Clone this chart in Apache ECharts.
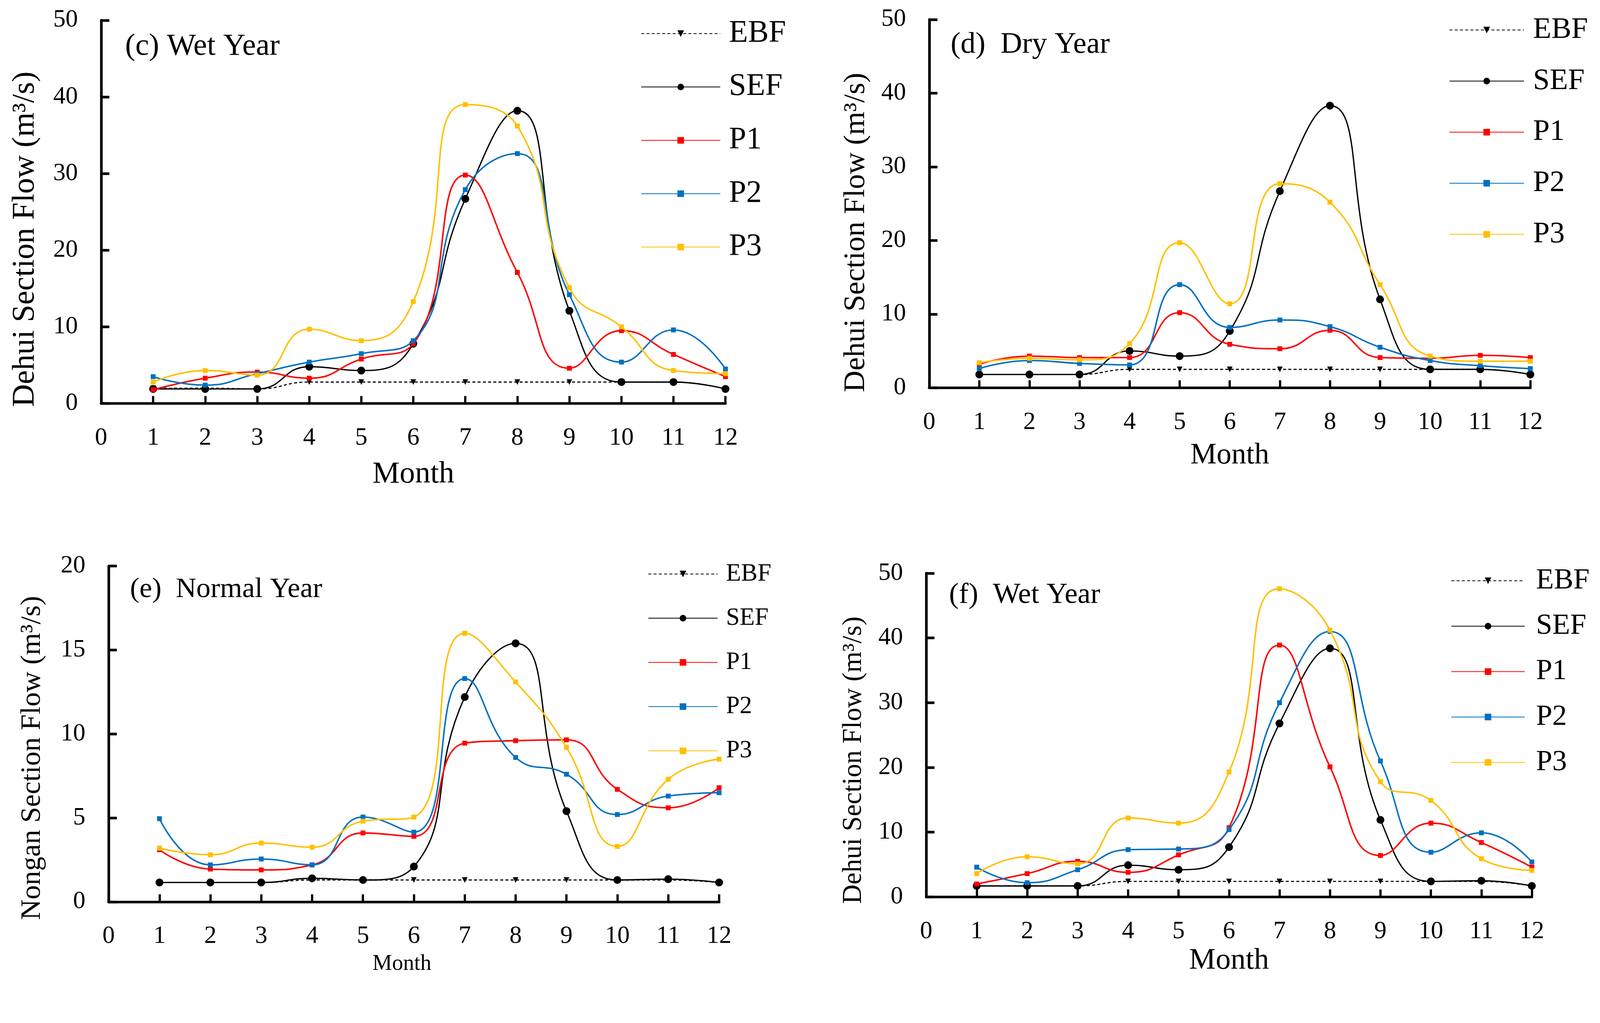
<!DOCTYPE html>
<html><head><meta charset="utf-8">
<script src="https://cdn.jsdelivr.net/npm/echarts@6/dist/echarts.min.js"></script>
<style>html,body{margin:0;padding:0;background:#fff;overflow:hidden}#c{width:4272px;height:2618px}</style>
</head><body><div id="c"></div>
<script>
// ---------- data ----------
const months = [1,2,3,4,5,6,7,8,9,10,11,12];
const seriesNames = ['EBF','SEF','P1','P2','P3'];
const panelTitles = ['(c) Wet Year','(d)  Dry Year','(e)  Normal Year','(f)  Wet Year'];
const yNames = ['Dehui Section Flow (m³/s)','Dehui Section Flow (m³/s)','Nongan Section Flow (m³/s)','Dehui Section Flow (m³/s)'];
const xName = 'Month';
const yMax = [50,50,20,50];
const yStep = [10,10,5,10];

// (c) Wet Year, Dehui
const cEBF = [2.0,2.0,1.9,2.8,2.8,2.8,2.8,2.8,2.8,2.8,2.8,1.9];
const cSEF = [1.9,1.9,1.9,4.8,4.3,7.8,26.7,38.2,12.1,2.8,2.8,1.9];
const cP1  = [1.8,3.3,4.1,3.3,5.8,7.8,29.8,17.1,4.6,9.5,6.4,3.5];
const cP2  = [3.5,2.4,3.9,5.4,6.5,8.2,27.9,32.6,14.2,5.4,9.6,4.5];
const cP3  = [2.8,4.3,3.7,9.7,8.2,13.3,39.0,36.2,15.1,10.0,4.3,3.9];
// (d) Dry Year, Dehui
const dEBF = [1.8,1.8,1.8,2.5,2.5,2.5,2.5,2.5,2.5,2.5,2.5,1.8];
const dSEF = [1.8,1.8,1.8,5.0,4.3,7.7,26.7,38.3,12.0,2.5,2.5,1.8];
const dP1  = [3.2,4.3,4.1,4.1,10.2,5.9,5.3,7.8,4.1,4.0,4.4,4.1];
const dP2  = [2.6,3.7,3.3,3.1,14.0,8.2,9.2,8.3,5.5,3.7,3.0,2.6];
const dP3  = [3.4,4.0,3.8,6.0,19.7,11.4,27.7,25.2,14.0,4.3,3.6,3.6];
// (e) Normal Year, Nongan
const eEBF = [1.15,1.15,1.15,1.3,1.3,1.3,1.3,1.3,1.3,1.3,1.3,1.15];
const eSEF = [1.15,1.15,1.15,1.4,1.3,2.1,12.2,15.4,5.4,1.3,1.35,1.15];
const eP1  = [3.1,1.95,1.9,2.2,4.1,3.9,9.45,9.6,9.65,6.7,5.6,6.8];
const eP2  = [4.95,2.2,2.55,2.2,5.05,4.15,13.3,8.6,7.6,5.2,6.3,6.5];
const eP3  = [3.2,2.8,3.5,3.25,4.8,5.05,16.0,13.1,9.2,3.3,7.3,8.5];
// (f) Wet Year, Dehui
const fEBF = [1.7,1.7,1.7,2.4,2.4,2.4,2.4,2.4,2.4,2.4,2.4,1.7];
const fSEF = [1.7,1.7,1.7,4.9,4.2,7.7,26.8,38.4,11.9,2.4,2.5,1.7];
const fP1  = [2.0,3.6,5.5,3.8,6.5,10.7,38.9,20.1,6.4,11.4,8.4,4.6];
const fP2  = [4.6,2.2,4.2,7.3,7.4,10.4,30.0,41.0,21.0,6.9,9.9,5.4];
const fP3  = [3.6,6.2,5.1,12.2,11.4,19.3,47.6,41.2,17.8,14.9,5.9,4.1];

const panelData = [
  [cEBF,cSEF,cP1,cP2,cP3],
  [dEBF,dSEF,dP1,dP2,dP3],
  [eEBF,eSEF,eP1,eP2,eP3],
  [fEBF,fSEF,fP1,fP2,fP3]
];

// ---------- layout / styles (designed in 4272x2618 px, scaled to viewport) ----------
const s = (window.innerWidth || 4272) / 4272;
const S = v => v * s;
const el = document.getElementById('c');
el.style.width = S(4272) + 'px';
el.style.height = S(2618) + 'px';

const FONT = "'Liberation Serif','Times New Roman',serif";
const layout = [
  {l:270, t:54,  r:1937, b:1077, titleX:334, titleY:84,  titleF:82, yNameGap:160, yNameF:84, yShift:146, xNameGap:148, xNameF:82, xShift:0,
   lgX:1711, lgY:48, lgW:211, lgF:83, lgGap:59, lgPad:18},
  {l:2481,t:52,  r:4086, b:1035, titleX:2538,titleY:80,  titleF:80, yNameGap:155, yNameF:80, yShift:154, xNameGap:142, xNameF:79, xShift:0,
   lgX:3869, lgY:40, lgW:199, lgF:80, lgGap:56, lgPad:19},
  {l:290, t:1511,r:1920, b:2407, titleX:347, titleY:1536,titleF:76, yNameGap:166, yNameF:76, yShift:128, xNameGap:136, xNameF:59, xShift:64,
   lgX:1730, lgY:1499,lgW:185, lgF:66, lgGap:52, lgPad:17},
  {l:2473,t:1530,r:4090, b:2394, titleX:2534,titleY:1550,titleF:78, yNameGap:157, yNameF:72, yShift:134, xNameGap:130, xNameF:80, xShift:0,
   lgX:3874, lgY:1511,lgW:196, lgF:78, lgGap:43, lgPad:25}
];

const colors = {EBF:'#000000', SEF:'#000000', P1:'#FF0000', P2:'#0070C0', P3:'#FFC000'};
function styleFor(name){
  if (name === 'EBF') return {symbol:'triangle', symbolRotate:180, symbolSize:S(15), lineStyle:{color:'#000',width:S(3),type:[S(8),S(6)]}};
  if (name === 'SEF') return {symbol:'circle', symbolSize:S(21), lineStyle:{color:'#000',width:S(3.5)}};
  return {symbol:'rect', symbolSize:S(13), lineStyle:{color:colors[name],width:S(4)}};
}

const grids=[], xAxes=[], yAxes=[], series=[], titles=[], legends=[];
layout.forEach((L,i)=>{
  grids.push({left:S(L.l), top:S(L.t), width:S(L.r-L.l), height:S(L.b-L.t), containLabel:false});
  xAxes.push({
    type:'value', gridIndex:i, min:0, max:12, interval:1,
    name:xName, nameLocation:'middle', nameGap:S(L.xNameGap),
    nameTextStyle:{fontFamily:FONT, fontSize:S(L.xNameF), color:'#000', padding:[0,S(L.xShift),0,0]},
    axisLine:{show:true, onZero:false, lineStyle:{color:'#000', width:S(7)}},
    axisTick:{show:true, inside:true, length:S(20), lineStyle:{color:'#000', width:S(6)}},
    axisLabel:{fontFamily:FONT, fontSize:S(66), color:'#000', margin:S(60)},
    splitLine:{show:false}
  });
  yAxes.push({
    type:'value', gridIndex:i, min:0, max:yMax[i], interval:yStep[i],
    name:yNames[i], nameLocation:'middle', nameGap:S(L.yNameGap),
    nameTextStyle:{fontFamily:FONT, fontSize:S(L.yNameF), color:'#000', padding:[0,S(L.yShift),0,0]},
    axisLine:{show:true, lineStyle:{color:'#000', width:S(7)}},
    axisTick:{show:true, inside:true, length:S(22), lineStyle:{color:'#000', width:S(7)}},
    axisLabel:{fontFamily:FONT, fontSize:S(66), color:'#000', margin:S(62)},
    splitLine:{show:false}
  });
  titles.push({text:panelTitles[i], left:S(L.titleX), top:S(L.titleY), padding:0,
    textStyle:{fontFamily:FONT, fontSize:S(L.titleF), fontWeight:'normal', color:'#000', lineHeight:S(L.titleF)}});
  legends.push({
    orient:'vertical', left:S(L.lgX), top:S(L.lgY), padding:0,
    itemWidth:S(L.lgW), itemHeight:S(22), itemGap:S(L.lgGap),
    data:seriesNames,
    selectedMode:false,
    textStyle:{fontFamily:FONT, fontSize:S(L.lgF), color:'#000', lineHeight:S(L.lgF), padding:[0,0,0,S(L.lgPad)]}
  });
  seriesNames.forEach((nm,k)=>{
    const st = styleFor(nm);
    series.push(Object.assign({
      name:nm, type:'line', xAxisIndex:i, yAxisIndex:i,
      smooth:0.5,
      data: months.map((m,j)=>[m, panelData[i][k][j]]),
      itemStyle:{color:colors[nm]},
      showSymbol:true, animation:false, z:2+k
    }, st));
  });
});

const chart = echarts.init(el, null, {renderer:'canvas'});
chart.setOption({
  backgroundColor:'#fff',
  animation:false,
  title:titles, legend:legends, grid:grids, xAxis:xAxes, yAxis:yAxes, series:series
});
</script></body></html>
